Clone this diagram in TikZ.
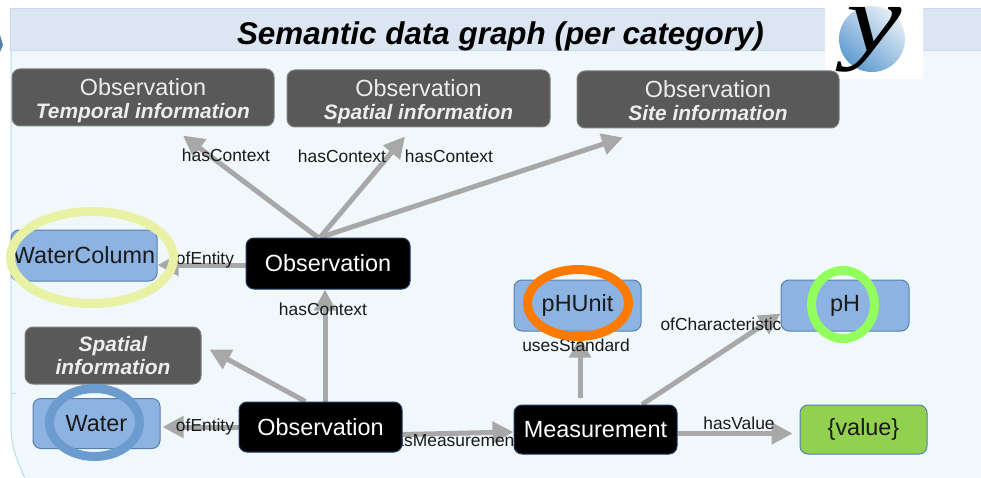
\documentclass[tikz,border=0pt]{standalone}
\usepackage{fontspec}
\setmainfont{Liberation Sans}
\newfontfamily\logofont{Liberation Serif}
\usetikzlibrary{arrows.meta,calc}
\newcommand{\fs}[1]{\fontsize{#1}{#1}\selectfont}
\newcommand{\topline}{\rule{0pt}{23pt}}
\newcommand{\botline}{\rule[-4pt]{0pt}{4pt}}
\pgfdeclarelayer{under}
\pgfdeclarelayer{conn}
\pgfsetlayers{under,conn,main}
\definecolor{grey1}{HTML}{EDEDED}
\definecolor{grey2}{HTML}{A8A8A8}
\definecolor{grey3}{HTML}{595959}
\definecolor{grey4}{HTML}{7F7F7F}
\definecolor{blue1}{HTML}{8DB3E2}
\definecolor{blue2}{HTML}{5580AE}
\definecolor{navy}{HTML}{1F3864}
\definecolor{ink}{HTML}{1A1A1A}
\definecolor{green1}{HTML}{92D050}
\definecolor{band}{HTML}{DCE6F2}
\definecolor{bandline}{HTML}{C6D9F0}
\definecolor{panel}{HTML}{F0F8FB}
\definecolor{panelline}{HTML}{B7DEE8}
\definecolor{ringY}{HTML}{E9F2A4}
\definecolor{ringB}{HTML}{6C9BCF}
\definecolor{ringO}{HTML}{FF7A00}
\definecolor{ringG}{HTML}{93FF5C}
\definecolor{ballA}{HTML}{E6EEF6}
\definecolor{ballB}{HTML}{5F9BD0}
\tikzset{
  box/.style={rounded corners=8, inner sep=0, align=center, font=\fs{23.4}, line width=1},
  greybox/.style={box, fill=grey3, draw=grey4, text=grey1},
  bluebox/.style={box, fill=blue1, draw=blue2, text=ink},
  blackbox/.style={box, fill=black, draw=navy, text=white},
  greenbox/.style={box, fill=green1, draw=blue2, text=ink},
  arr/.style={draw=grey2, line width=5, -{Triangle[length=21,width=21,fill=grey2]}},
  lbl/.style={font=\fs{17.4}, text=ink, inner sep=0},
  ring/.style={line width=9, fill=none},
}
\begin{document}
\begin{tikzpicture}[x=1pt,y=-1pt]
\useasboundingbox (0,0) rectangle (981,478);
% boxes
\node[greybox, minimum width=262, minimum height=57] (temporal) at (143,97.5) {\topline Observation\\[0pt]{\fs{20.9}\bfseries\itshape Temporal information}\botline};
\node[greybox, minimum width=263, minimum height=57] (spatialobs) at (418.5,98.5) {\topline Observation\\[0pt]{\fs{20.9}\bfseries\itshape Spatial information}\botline};
\node[greybox, minimum width=262, minimum height=57] (site) at (708,99.5) {\topline Observation\\[0pt]{\fs{20.9}\bfseries\itshape Site information}\botline};
\node[bluebox, minimum width=146, minimum height=51] (wc) at (84,255.5) {WaterColumn};
\node[blackbox, minimum width=164, minimum height=51] (obsA) at (328,263.5) {Observation};
\node[greybox, minimum width=176, minimum height=57, font=\fs{20.9}\bfseries\itshape] (spatial) at (113,355.5) {Spatial\\[3pt]information};
\node[bluebox, minimum width=127, minimum height=50] (water) at (96.5,423.5) {Water};
\node[blackbox, minimum width=163, minimum height=50] (obsB) at (320.5,427) {Observation};
\node[blackbox, minimum width=163, minimum height=49] (meas) at (595.5,429.5) {Measurement};
\node[bluebox, minimum width=127, minimum height=51] (unit) at (577.5,305.5) {pHUnit};
\node[bluebox, minimum width=128, minimum height=51] (ph) at (845,305.5) {pH};
\node[greenbox, minimum width=127, minimum height=49] (val) at (863.5,429.5) {\{value\}};
% background
\begin{pgfonlayer}{under}
\clip (0,0) rectangle (981,478);
\fill[white] (0,0) rectangle (981,478);
\path[fill=panel] (11,51) -- (981,51) -- (981,490) -- (30,490) .. controls (18,462) and (11,450) .. (11,425) -- cycle;
\draw[panelline, line width=1] (11,51) -- (11,425) .. controls (11,450) and (18,462) .. (30,490);
\draw[panelline, line width=1] (11,393) -- (16,393);
\fill[band] (10,9) rectangle (981,51);
\draw[bandline, line width=1] (981,9) -- (10,9) -- (10,51) -- (981,51);
\fill[blue2] (0,35) -- (3,45) -- (0,52) -- cycle;
\fill[white] (825,-1) rectangle (923,79);
\shade[top color=ballA, bottom color=ballB, shading angle=-40] (872,39) circle (33);
\end{pgfonlayer}
% connectors
\begin{pgfonlayer}{conn}
\draw[arr] ($(obsA.north)+(-10,0)$) -- ($(temporal.south)+(40,9)$);
\draw[arr] ($(obsA.north)+(-8,0)$) -- ($(spatialobs.south)+(-13.5,9)$);
\draw[arr] ($(obsA.north)+(-8,0)$) -- ($(site.south)+(-85,9)$);
\draw[arr] (obsA.west |- 0,265) -- (wc.east |- 0,265);
\draw[arr] ($(obsB.north)+(4.5,0)$) -- ($(obsA.south)+(-3,0)$);
\draw[arr] ($(obsB.north)+(-15,0)$) -- ($(spatial.east)+(8,-6)$);
\draw[arr] (obsB.west) -- ($(water.east)+(2,3.5)$);
\draw[arr] ($(obsB.east)+(0,7.5)$) -- ($(meas.west)+(0,2.5)$);
\draw[arr] ($(meas.north)+(-15.5,-7)$) -- ($(unit.south)+(2.5,5)$);
\draw[arr] ($(meas.north)+(46.5,0)$) -- ($(ph.west)+(0,8)$);
\draw[arr] ($(meas.east)+(0,4)$) -- ($(val.west)+(-7,4)$);
\node[lbl] (lhm) at (452,440) {hasMeasurement};
\end{pgfonlayer}
% title and logo
\node[font=\fs{31.4}\bfseries\itshape, text=black, inner sep=0] (title) at (500.5,36) {Semantic data graph (per category)};
\node[font=\logofont\fs{96}\itshape, text=black, inner sep=0, xscale=1.3] (logo) at (874,40) {y};
% labels
\node[lbl] (l1) at (226,155) {hasContext};
\node[lbl] (l2) at (342,156) {hasContext};
\node[lbl] (l3) at (449,156) {hasContext};
\node[lbl] (l4) at (323,309) {hasContext};
\node[lbl] (l5) at (205,260) {ofEntity};
\node[lbl] (l6) at (205,427) {ofEntity};
\node[lbl] (l7) at (576,345) {usesStandard};
\node[lbl] (l8) at (721,324) {ofCharacteristic};
\node[lbl] (l9) at (739,423) {hasValue};
% highlight rings
\draw[ring, draw=ringY] (92,257.5) ellipse [x radius=81.5, y radius=46];
\draw[ring, draw=ringB] (94.5,422.5) ellipse [x radius=45, y radius=34];
\draw[ring, draw=ringO] (578,303) ellipse [x radius=50.5, y radius=33.5];
\draw[ring, draw=ringG] (843,304.5) ellipse [x radius=31.5, y radius=34];
\end{tikzpicture}
\end{document}
